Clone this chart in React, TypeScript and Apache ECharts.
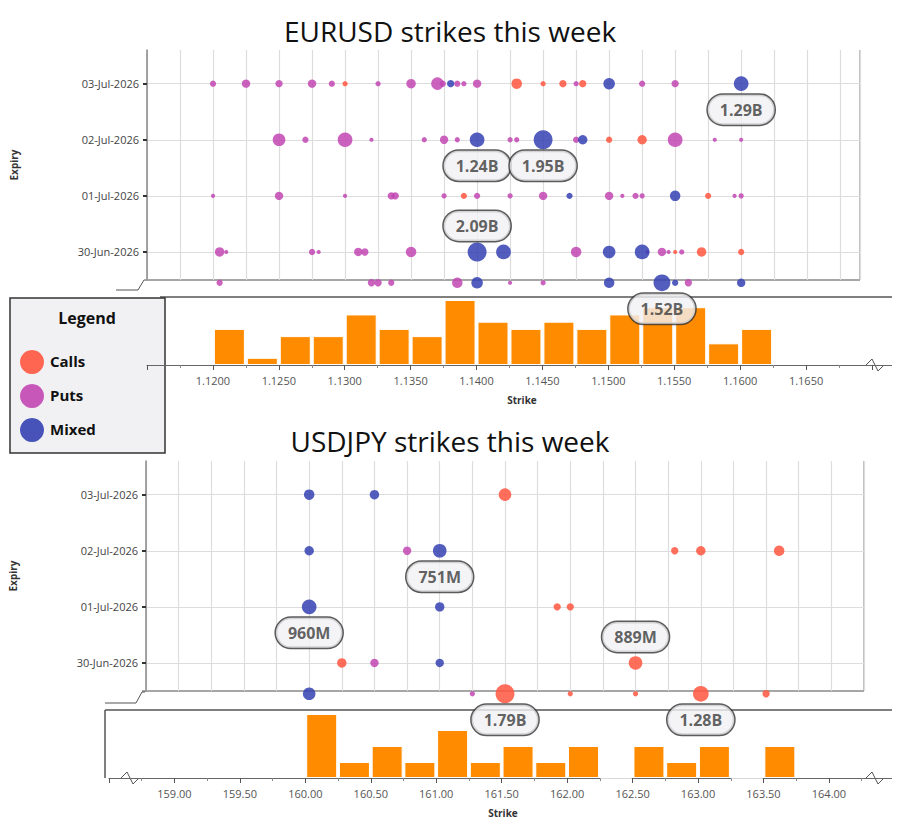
import React, { useEffect, useRef } from "react";
import * as echarts from "echarts";

// expiry rows: 1..4 labelled, 0 = earlier expiries below the axis break
const EXPIRIES = ["30-Jun-2026", "01-Jul-2026", "02-Jul-2026", "03-Jul-2026"];
const ROW_Y = [0.45, 1, 2, 3, 4];

// [strike, row, bubble size]
const eurCalls = [
  [1.13, 4, 5], [1.143, 4, 10], [1.145, 4, 5], [1.1465, 4, 7], [1.148, 4, 7],
  [1.15, 3, 6], [1.1525, 3, 9],
  [1.139, 2, 6], [1.1575, 2, 6],
  [1.155, 1, 4], [1.157, 1, 9], [1.16, 1, 6],
];
const eurPuts = [
  [1.12, 4, 6], [1.1225, 4, 8], [1.125, 4, 7], [1.1275, 4, 8], [1.129, 4, 6], [1.1325, 4, 5], [1.135, 4, 9],
  [1.137, 4, 12], [1.1374, 4, 6], [1.1385, 4, 6], [1.139, 4, 5], [1.14, 4, 8], [1.1475, 4, 5], [1.1525, 4, 6], [1.155, 4, 7],
  [1.125, 3, 12], [1.127, 3, 6], [1.13, 3, 14], [1.132, 3, 4], [1.136, 3, 5], [1.1375, 3, 8], [1.1385, 3, 5],
  [1.1425, 3, 5], [1.143, 3, 5], [1.1475, 3, 6], [1.155, 3, 14], [1.158, 3, 4], [1.16, 3, 4],
  [1.12, 2, 4], [1.125, 2, 8], [1.13, 2, 4], [1.1335, 2, 7], [1.1338, 2, 7], [1.1375, 2, 5], [1.14, 2, 6],
  [1.1425, 2, 5], [1.145, 2, 8], [1.15, 2, 8], [1.151, 2, 4], [1.152, 2, 6], [1.1525, 2, 5], [1.1595, 2, 4], [1.16, 2, 5],
  [1.1205, 1, 9], [1.121, 1, 4], [1.1275, 1, 6], [1.128, 1, 4], [1.131, 1, 8], [1.1315, 1, 7], [1.135, 1, 10],
  [1.1475, 1, 10], [1.1529, 1, 4], [1.154, 1, 8], [1.1545, 1, 4], [1.1555, 1, 5],
  [1.1205, 0, 6], [1.132, 0, 7], [1.1325, 0, 7], [1.1335, 0, 6], [1.1385, 0, 10], [1.1425, 0, 4], [1.145, 0, 5], [1.156, 0, 7],
];
const eurMixed = [
  [1.138, 4, 7], [1.15, 4, 11], [1.16, 4, 14],
  [1.14, 3, 14], [1.145, 3, 18], [1.148, 3, 9],
  [1.147, 2, 6], [1.155, 2, 10],
  [1.14, 1, 18], [1.142, 1, 14], [1.15, 1, 12], [1.1525, 1, 14],
  [1.14, 0, 11], [1.15, 0, 10], [1.154, 0, 16], [1.155, 0, 6], [1.16, 0, 8],
];
const eurLabels: [number, number, string, string][] = [
  [1.16, 4, "1.29B", "bottom"], [1.14, 3, "1.24B", "bottom"], [1.145, 3, "1.95B", "bottom"],
  [1.14, 1, "2.09B", "top"], [1.154, 0, "1.52B", "bottom"],
];
const eurBinStart = [1.12, 1.1225, 1.125, 1.1275, 1.13, 1.1325, 1.135, 1.1375, 1.14, 1.1425, 1.145, 1.1475, 1.15, 1.1525, 1.155, 1.1575, 1.16];
const eurCounts = [5, 1, 4, 4, 7, 5, 4, 9, 6, 5, 6, 5, 7, 8, 8, 3, 5];

const jpyCalls = [
  [161.5, 4, 12],
  [162.8, 3, 7], [163.0, 3, 9], [163.6, 3, 10],
  [161.9, 2, 7], [162.0, 2, 7],
  [160.25, 1, 9], [162.5, 1, 13],
  [161.5, 0, 18], [162.0, 0, 5], [162.5, 0, 5], [163.0, 0, 15], [163.5, 0, 7],
];
const jpyPuts = [[160.75, 3, 8], [160.5, 1, 8], [161.25, 0, 5]];
const jpyMixed = [
  [160.0, 4, 10], [160.5, 4, 9],
  [160.0, 3, 9], [161.0, 3, 13],
  [160.0, 2, 14], [161.0, 2, 9],
  [161.0, 1, 8],
  [160.0, 0, 12],
];
const jpyLabels: [number, number, string, string][] = [
  [161.0, 3, "751M", "bottom"], [160.0, 2, "960M", "bottom"], [162.5, 1, "889M", "top"],
  [161.5, 0, "1.79B", "bottom"], [163.0, 0, "1.28B", "bottom"],
];
const jpyBinStart = [160.0, 160.25, 160.5, 160.75, 161.0, 161.25, 161.5, 161.75, 162.0, 162.25, 162.5, 162.75, 163.0, 163.25, 163.5];
const jpyCounts = [4, 1, 2, 1, 3, 1, 2, 1, 2, 0, 2, 1, 2, 0, 2];

const RED = "#ff5640";
const PURPLE = "#c247b3";
const BLUE = "#3441b3";
const FONT = "Open Sans";

const pts = (arr: number[][]) => arr.map((p) => [p[0], ROW_Y[p[1]], p[2]]);

const bubble = (name: string, data: number[][], color: string, idx: number) => ({
  name,
  type: "scatter",
  xAxisIndex: idx,
  yAxisIndex: idx,
  clip: false,
  data: pts(data),
  symbolSize: (v: number[]) => v[2] * 1.05,
  itemStyle: { color, opacity: 0.85 },
  z: 3,
});

const labelSeries = (labels: [number, number, string, string][], idx: number) => ({
  type: "scatter",
  xAxisIndex: idx,
  yAxisIndex: idx,
  clip: false,
  symbolSize: 16,
  itemStyle: { color: "transparent" },
  z: 10,
  data: labels.map((l) => ({
    value: [l[0], ROW_Y[l[1]]],
    label: {
      show: true,
      position: l[3],
      distance: 3,
      formatter: l[2],
      backgroundColor: "#f1f1f4",
      borderColor: "#333",
      borderWidth: 1.5,
      borderRadius: 16,
      padding: [7, 12],
      fontFamily: FONT,
      fontWeight: "bold",
      fontSize: 16,
      color: "#3a3a3a",
    },
  })),
});

const hLines = (idx: number) => ({
  type: "scatter",
  xAxisIndex: idx,
  yAxisIndex: idx,
  data: [],
  z: 0,
  markLine: {
    silent: true,
    symbol: "none",
    z: 0,
    label: { show: false },
    lineStyle: { color: "#ddd", type: "solid", width: 1.2 },
    data: [1, 2, 3, 4].map((y) => ({ yAxis: y })),
  },
});

const bars = (starts: number[], counts: number[], step: number, idx: number) => ({
  type: "bar",
  xAxisIndex: idx,
  yAxisIndex: idx,
  barWidth: 31,
  data: starts.map((s, i) => [s + step / 2, counts[i]]),
  itemStyle: { color: "#ff8c00", borderColor: "#fff", borderWidth: 1 },
  z: 1,
});

const zig = (x: number, y: number) => ({
  type: "polyline",
  shape: { points: [[x, y], [x + 6, y - 6], [x + 12, y + 6], [x + 18, y]] },
  style: { stroke: "#555", fill: null, lineWidth: 1 },
});

const App: React.FC = () => {
  const chartRef = useRef<HTMLDivElement>(null);

  useEffect(() => {
    const chart = echarts.init(chartRef.current!, undefined, { renderer: "svg" });

    const scatterX = (min: number, max: number, interval: number, grid: number) => ({
      type: "value",
      gridIndex: grid,
      min,
      max,
      interval,
      axisLine: { show: false },
      axisTick: { show: false },
      axisLabel: { show: false },
      splitLine: { show: true, lineStyle: { color: "#ddd", width: 1.2 } },
    });
    const scatterY = (grid: number) => ({
      type: "value",
      gridIndex: grid,
      min: 0.5,
      max: 4.6,
      name: "Expiry",
      nameLocation: "middle",
      nameGap: 128,
      nameTextStyle: { fontFamily: FONT, fontWeight: "bold", fontSize: 10, color: "#333" },
      axisLine: { show: true, lineStyle: { color: "#888", width: 1.5 } },
      axisTick: { show: true, customValues: [1, 2, 3, 4], length: 4, lineStyle: { color: "#333", width: 2 } },
      axisLabel: {
        customValues: [1, 2, 3, 4],
        formatter: (v: number) => EXPIRIES[Math.round(v) - 1] ?? "",
        fontFamily: FONT,
        fontSize: 11,
        color: "#444",
      },
      splitLine: { show: false },
    });
    const barX = (min: number, max: number, interval: number, lo: number, hi: number, dp: number, grid: number) => ({
      type: "value",
      gridIndex: grid,
      min,
      max,
      interval,
      name: "Strike",
      nameLocation: "middle",
      nameGap: 30,
      nameTextStyle: { fontFamily: FONT, fontWeight: "bold", fontSize: 10, color: "#333" },
      axisLine: { show: true, onZero: false, lineStyle: { color: "#666" } },
      axisTick: { show: true, length: 5, lineStyle: { color: "#555" } },
      minorTick: { show: true, splitNumber: 2, length: 3, lineStyle: { color: "#888" } },
      axisLabel: {
        formatter: (v: number) => (v < lo || v > hi ? "" : v.toFixed(dp)),
        fontFamily: FONT,
        fontSize: 11,
        color: "#555",
        margin: 10,
      },
      splitLine: { show: false },
    });
    const barY = (max: number, grid: number) => ({
      type: "value",
      gridIndex: grid,
      min: 0,
      max,
      show: false,
      splitLine: { show: false },
    });

    chart.setOption({
      animation: false,
      backgroundColor: "#fff",
      textStyle: { fontFamily: FONT },
      title: [
        { text: "EURUSD strikes this week", left: "center", top: 12, textStyle: { fontFamily: FONT, fontWeight: "normal", fontSize: 28, color: "#111" } },
        { text: "USDJPY strikes this week", left: "center", top: 422, textStyle: { fontFamily: FONT, fontWeight: "normal", fontSize: 28, color: "#111" } },
      ],
      grid: [
        { left: 147, right: 40, top: 50, height: 230 },
        { left: 147, right: 2, top: 300, height: 65 },
        { left: 142, right: 36, top: 461, height: 230 },
        { left: 109, right: 0, top: 714, height: 64 },
      ],
      xAxis: [
        scatterX(1.115, 1.169, 0.0025, 0),
        barX(1.115, 1.1719, 0.005, 1.119, 1.166, 4, 1),
        scatterX(158.75, 164.25, 0.25, 2),
        barX(158.5, 164.52, 0.5, 158.9, 164.1, 2, 3),
      ],
      yAxis: [scatterY(0), barY(9, 1), scatterY(2), barY(4, 3)],
      series: [
        bars(eurBinStart, eurCounts, 0.0025, 1),
        bars(jpyBinStart, jpyCounts, 0.25, 3),
        hLines(0),
        hLines(2),
        bubble("Puts", eurPuts, PURPLE, 0),
        bubble("Calls", eurCalls, RED, 0),
        bubble("Mixed", eurMixed, BLUE, 0),
        bubble("Puts", jpyPuts, PURPLE, 2),
        bubble("Calls", jpyCalls, RED, 2),
        bubble("Mixed", jpyMixed, BLUE, 2),
        labelSeries(eurLabels, 0),
        labelSeries(jpyLabels, 2),
      ],
      graphic: [
        // frames of the scatter panels
        { type: "line", shape: { x1: 147, y1: 280, x2: 860, y2: 280 }, style: { stroke: "#888", lineWidth: 1.5 } },
        { type: "line", shape: { x1: 860, y1: 50, x2: 860, y2: 280 }, style: { stroke: "#aaa", lineWidth: 1.5 } },
        { type: "line", shape: { x1: 142, y1: 691, x2: 864, y2: 691 }, style: { stroke: "#888", lineWidth: 1.5 } },
        { type: "line", shape: { x1: 864, y1: 461, x2: 864, y2: 691 }, style: { stroke: "#aaa", lineWidth: 1.5 } },
        // separators above the bar panels
        { type: "line", shape: { x1: 160, y1: 297, x2: 900, y2: 297 }, style: { stroke: "#555", lineWidth: 1.5 } },
        { type: "line", shape: { x1: 105, y1: 710, x2: 900, y2: 710 }, style: { stroke: "#555", lineWidth: 1.5 } },
        { type: "line", shape: { x1: 105, y1: 710, x2: 105, y2: 778 }, style: { stroke: "#555", lineWidth: 1.5 } },
        // axis breaks
        { type: "polyline", shape: { points: [[116, 290], [138, 290], [144, 280], [147, 280]] }, style: { stroke: "#555", fill: null, lineWidth: 1 } },
        { type: "polyline", shape: { points: [[105, 703], [136, 703], [142, 692], [145, 692]] }, style: { stroke: "#555", fill: null, lineWidth: 1 } },
        zig(866, 365),
        zig(121, 778),
        zig(866, 778),
        // legend box
        {
          type: "group",
          z: 100,
          children: [
            { type: "rect", shape: { x: 10, y: 298, width: 155, height: 155 }, style: { fill: "#f1f1f4", stroke: "#333", lineWidth: 1.5 } },
            { type: "text", x: 87, y: 310, style: { text: "Legend", fontFamily: FONT, fontWeight: "bold", fontSize: 16, fill: "#111", align: "center" } },
            { type: "circle", shape: { cx: 32, cy: 362, r: 12 }, style: { fill: RED, opacity: 0.9 } },
            { type: "text", x: 50, y: 353, style: { text: "Calls", fontFamily: FONT, fontWeight: "bold", fontSize: 15, fill: "#111" } },
            { type: "circle", shape: { cx: 32, cy: 396, r: 12 }, style: { fill: PURPLE, opacity: 0.9 } },
            { type: "text", x: 50, y: 387, style: { text: "Puts", fontFamily: FONT, fontWeight: "bold", fontSize: 15, fill: "#111" } },
            { type: "circle", shape: { cx: 32, cy: 430, r: 12 }, style: { fill: BLUE, opacity: 0.9 } },
            { type: "text", x: 50, y: 421, style: { text: "Mixed", fontFamily: FONT, fontWeight: "bold", fontSize: 15, fill: "#111" } },
          ],
        },
      ],
    });

    return () => {
      chart.dispose();
    };
  }, []);

  return <div ref={chartRef} style={{ width: 900, height: 830, margin: -8 }} />;
};

export default App;
